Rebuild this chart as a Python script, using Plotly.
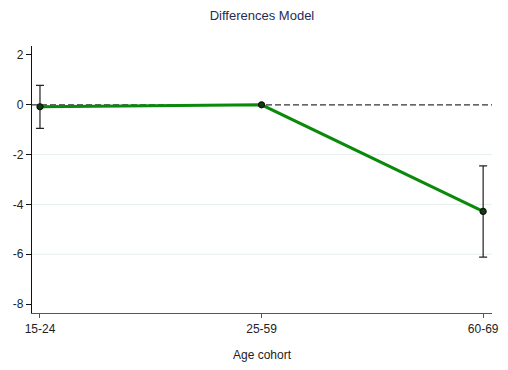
import plotly.graph_objects as go

# Age cohorts and estimated differences (reference cohort 25-59 fixed at 0)
cohorts = ["15-24", "25-59", "60-69"]
estimate = [-0.08, 0.0, -4.28]
ci_upper = [0.78, 0.0, -2.45]
ci_lower = [-0.95, 0.0, -6.12]

y_ticks = [2, 0, -2, -4, -6, -8]
grid_levels = [-2, -4, -6]

err_plus = [u - e for u, e in zip(ci_upper, estimate)]
err_minus = [e - l for e, l in zip(estimate, ci_lower)]

xpos = list(range(len(cohorts)))

fig = go.Figure()

# Faint horizontal gridlines
for g in grid_levels:
    fig.add_shape(type="line", xref="paper", x0=0, x1=1, yref="y", y0=g, y1=g,
                  line=dict(color="#e6eef0", width=1), layer="below")

# Reference line at zero
fig.add_shape(type="line", xref="paper", x0=0, x1=1, yref="y", y0=0, y1=0,
              line=dict(color="#333333", width=1.3, dash="6px,3px"), layer="below")

# Confidence intervals (only where the interval has width)
ci_x = [x for x, p, m in zip(xpos, err_plus, err_minus) if p + m > 0]
ci_y = [e for e, p, m in zip(estimate, err_plus, err_minus) if p + m > 0]
ci_p = [p for p, m in zip(err_plus, err_minus) if p + m > 0]
ci_m = [m for p, m in zip(err_plus, err_minus) if p + m > 0]
fig.add_trace(go.Scatter(
    x=ci_x, y=ci_y, mode="markers", marker=dict(size=0.1, color="rgba(0,0,0,0)"),
    error_y=dict(type="data", symmetric=False, array=ci_p, arrayminus=ci_m,
                 color="#222222", thickness=1.2, width=4),
    showlegend=False, hoverinfo="skip"))

# Estimates
fig.add_trace(go.Scatter(
    x=xpos, y=estimate, mode="lines+markers",
    line=dict(color="#0a8a0a", width=3),
    marker=dict(size=6, color="#0b3f0b", line=dict(color="#111111", width=1.2)),
    showlegend=False))

fig.update_layout(
    width=508, height=370,
    margin=dict(l=32, r=16, t=46, b=57),
    paper_bgcolor="white", plot_bgcolor="white",
    font=dict(family="Liberation Sans, Arial, sans-serif", size=12, color="#222222"),
    title=dict(text="Differences Model", x=0.5, xref="paper", xanchor="center",
               y=1, yref="container", yanchor="top", pad=dict(t=11),
               font=dict(size=13, color="#1f2d55")),
    xaxis=dict(
        range=[-0.036, 2.04], tickmode="array", tickvals=xpos, ticktext=cohorts,
        showgrid=False, zeroline=False, showline=True, linecolor="#555555",
        linewidth=1.2, ticks="outside", ticklen=4, tickcolor="#555555",
        automargin=False,
        title=dict(text="Age cohort", standoff=16, font=dict(size=12)),
    ),
    yaxis=dict(
        range=[-8.36, 2.36], tickmode="array", tickvals=y_ticks,
        ticktext=[str(t) for t in y_ticks], showgrid=False, zeroline=False,
        showline=True, linecolor="#111111", linewidth=1.2, ticks="outside",
        ticklen=5, tickcolor="#111111", automargin=False,
    ),
)

fig.write_html("out.html")
